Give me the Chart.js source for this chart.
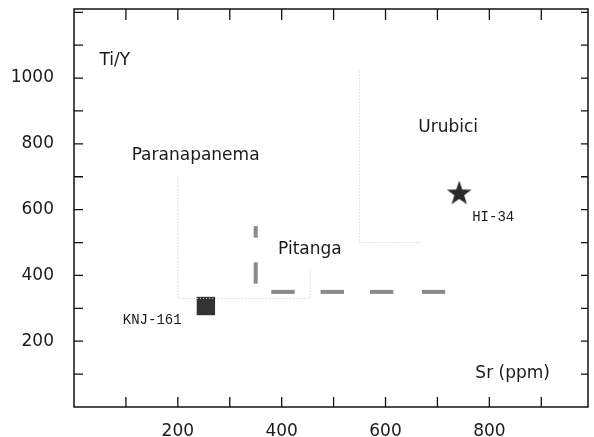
<!DOCTYPE html>
<html>
<head>
<meta charset="utf-8">
<script src="https://cdn.jsdelivr.net/npm/chart.js@4"></script>
<style>
  html, body { margin: 0; padding: 0; background: #fff; overflow: hidden; }
  #wrap { position: relative; width: 594px; height: 437px; }
  canvas { display: block; }
</style>
</head>
<body>
<div id="wrap"><canvas id="ti-y-chart"></canvas></div>
<script>
// field outlines (Sr ppm, Ti/Y)
var paranaSr = [200, 200, 455, 455];
var paranaTiY = [700, 330, 330, 420];
var urubiciSr = [550, 550, 670];
var urubiciTiY = [1020, 500, 500];

// grey dashes
var dashVertSr = 350;
var dashVertTiY = [[375, 440], [515, 550]];
var dashHorTiY = 350;
var dashHorSr = [[380, 425], [475, 520], [570, 615], [670, 715]];

// samples
var sampleNames = ["KNJ-161", "HI-34"];
var sampleSr = [254, 742];
var sampleTiY = [307, 650];

// text labels placed in data space
var fieldText = ["Ti/Y", "Paranapanema", "Urubici", "Pitanga", "Sr (ppm)"];
var fieldSr = [49, 111, 663, 393, 773];
var fieldTiY = [1052, 763, 848, 480, 103];
var sampleLabelSr = [94, 767];
var sampleLabelTiY = [264, 578];

var xTickLabels = [200, 400, 600, 800];
var yTickLabels = [200, 400, 600, 800, 1000];

function pts(xs, ys) {
	var out = [];
	for (var i = 0; i < xs.length; i++) out.push({x: xs[i], y: ys[i]});
	return out;
}

// filled star as point image
var starImg = document.createElement("canvas");
starImg.width = 26; starImg.height = 26;
(function () {
	var c = starImg.getContext("2d");
	c.fillStyle = "#2a2a2a";
	c.beginPath();
	for (var i = 0; i < 10; i++) {
		var r = i % 2 === 0 ? 13 : 5.2;
		var a = -Math.PI / 2 + i * Math.PI / 5;
		var px = 13 + r * Math.cos(a), py = 13.5 + r * Math.sin(a);
		if (i === 0) c.moveTo(px, py); else c.lineTo(px, py);
	}
	c.closePath();
	c.fill();
})();

var dotted = {
	showLine: true, borderColor: "#c8c8c8", borderWidth: 1, borderDash: [1, 2],
	pointRadius: 0, backgroundColor: "transparent"
};

var datasets = [
	Object.assign({label: "Paranapanema", data: pts(paranaSr, paranaTiY)}, dotted),
	Object.assign({label: "Urubici", data: pts(urubiciSr, urubiciTiY)}, dotted)
];

dashVertTiY.forEach(function (d) {
	datasets.push({
		label: "dash", data: [{x: dashVertSr, y: d[0]}, {x: dashVertSr, y: d[1]}],
		showLine: true, borderColor: "#8a8a8a", borderWidth: 4, pointRadius: 0
	});
});
dashHorSr.forEach(function (d) {
	datasets.push({
		label: "dash", data: [{x: d[0], y: dashHorTiY}, {x: d[1], y: dashHorTiY}],
		showLine: true, borderColor: "#8a8a8a", borderWidth: 4, pointRadius: 0
	});
});

datasets.push({
	label: sampleNames[0], data: [{x: sampleSr[0], y: sampleTiY[0]}],
	pointStyle: "rect", pointRadius: 13, backgroundColor: "#333", borderColor: "#333", borderWidth: 0
});
datasets.push({
	label: sampleNames[1], data: [{x: sampleSr[1], y: sampleTiY[1]}],
	pointStyle: starImg, pointRadius: 13
});

// frame, inward ticks and text labels
var framePlugin = {
	id: "frame",
	afterDatasetsDraw: function (chart) {
		var ctx = chart.ctx, a = chart.chartArea;
		var xs = chart.scales.x, ys = chart.scales.y;
		ctx.save();
		ctx.strokeStyle = "#111";
		ctx.lineWidth = 1.5;
		ctx.strokeRect(a.left, a.top, a.right - a.left, a.bottom - a.top);
		ctx.lineWidth = 1.3;
		ctx.beginPath();
		for (var v = 100; v < xs.max; v += 100) {
			var px = xs.getPixelForValue(v);
			ctx.moveTo(px, a.bottom); ctx.lineTo(px, a.bottom - 10);
			ctx.moveTo(px, a.top); ctx.lineTo(px, a.top + 11);
		}
		for (var w = 100; w < ys.max; w += 100) {
			var py = ys.getPixelForValue(w);
			ctx.moveTo(a.left, py); ctx.lineTo(a.left + 9, py);
			ctx.moveTo(a.right, py); ctx.lineTo(a.right - 7, py);
		}
		ctx.stroke();

		ctx.fillStyle = "#1a1a1a";
		ctx.textBaseline = "middle";
		ctx.textAlign = "left";
		ctx.font = "17px 'DejaVu Sans'";
		for (var i = 0; i < fieldText.length; i++) {
			ctx.fillText(fieldText[i], xs.getPixelForValue(fieldSr[i]), ys.getPixelForValue(fieldTiY[i]));
		}
		ctx.font = "14px 'Liberation Mono'";
		for (var j = 0; j < sampleNames.length; j++) {
			ctx.fillText(sampleNames[j], xs.getPixelForValue(sampleLabelSr[j]), ys.getPixelForValue(sampleLabelTiY[j]));
		}
		ctx.restore();
	}
};

function fixedTicks(list) {
	return function (s) {
		s.ticks = list.map(function (v) { return {value: v}; });
	};
}

var grafic = document.getElementById("ti-y-chart").getContext("2d");

var tiYChart = new Chart(grafic, {
	type: "scatter",
	data: {datasets: datasets},
	options: {
		responsive: true,
		maintainAspectRatio: false,
		animation: false,
		layout: {autoPadding: false, padding: {top: 9, right: 6, left: 0, bottom: 0}},
		plugins: {legend: {display: false}, tooltip: {enabled: false}},
		scales: {
			x: {
				type: "linear", min: 0, max: 990,
				grid: {display: false}, border: {display: false},
				afterBuildTicks: fixedTicks(xTickLabels),
				afterFit: function (s) { s.height = 30; s.paddingLeft = 0; s.paddingRight = 0; },
				ticks: {
					autoSkip: false, maxRotation: 0, padding: 6,
					color: "#1a1a1a", font: {family: "DejaVu Sans", size: 17},
					callback: function (v) { return String(v); }
				}
			},
			y: {
				type: "linear", min: 0, max: 1210,
				grid: {display: false}, border: {display: false},
				afterBuildTicks: fixedTicks(yTickLabels),
				afterFit: function (s) { s.width = 74; s.paddingTop = 0; s.paddingBottom = 0; },
				ticks: {
					autoSkip: false, padding: 12,
					color: "#1a1a1a", font: {family: "DejaVu Sans", size: 17},
					callback: function (v) { return String(v); }
				}
			}
		}
	},
	plugins: [framePlugin]
});
</script>
</body>
</html>
